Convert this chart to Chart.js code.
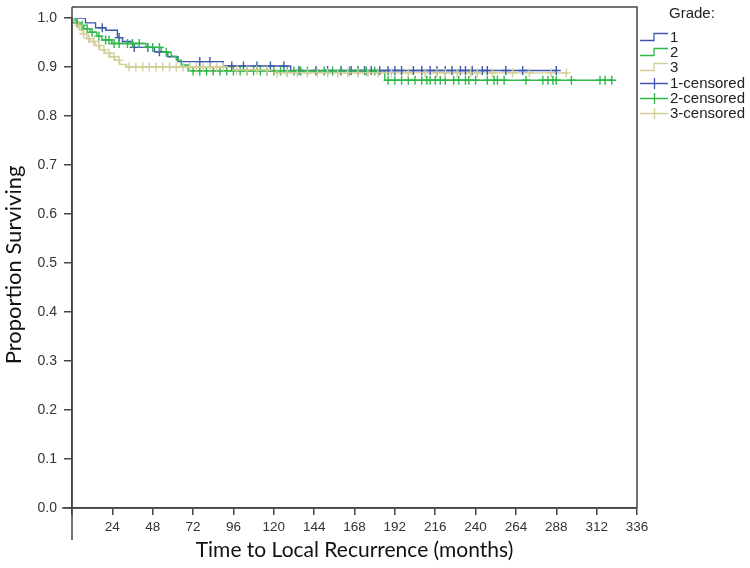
<!DOCTYPE html>
<html><head><meta charset="utf-8">
<script src="https://cdn.jsdelivr.net/npm/chart.js@4.4.1/dist/chart.umd.min.js"></script>
<style>
html,body{margin:0;padding:0;background:#fff;}
#wrap{position:relative;width:750px;height:568px;overflow:hidden;}
#legend{position:absolute;left:0;top:0;width:750px;height:568px;pointer-events:none;font-family:"Liberation Sans",Arial,sans-serif;font-size:15px;color:#222;}
#legend .t{position:absolute;line-height:16px;white-space:nowrap;}
#legend svg{position:absolute;}
</style></head><body>
<div id="wrap"><canvas id="c" width="750" height="568"></canvas><div id="legend"></div></div>
<script>
// ---------- data ----------
const xTicks = [0,24,48,72,96,120,144,168,192,216,240,264,288,312,336];
const yTicks = [0.0,0.1,0.2,0.3,0.4,0.5,0.6,0.7,0.8,0.9,1.0];
const groupNames = ["1","2","3"];
const groupColors = ["#3E58AC","#2EB848","#D3CE97"];

const grade1Times = [0, 8, 14, 20, 27, 30, 36, 49, 57, 63, 90, 130, 288];
const grade1Surv  = [1.0, 0.99, 0.98, 0.975, 0.96, 0.952, 0.94, 0.931, 0.921, 0.911, 0.902, 0.893, 0.893];
const grade2Times = [0, 1.8, 3, 4.7, 7.1, 10.7, 14.8, 17.8, 23.7, 44, 53, 59, 62, 65, 69, 186, 322];
const grade2Surv  = [1.0, 0.995, 0.99, 0.985, 0.978, 0.971, 0.963, 0.955, 0.948, 0.94, 0.93, 0.922, 0.914, 0.904, 0.892, 0.873, 0.873];
const grade3Times = [0, 1, 3, 4.7, 6.5, 8.9, 10.7, 13.6, 16.6, 19.5, 22.5, 25.4, 28.4, 32.5, 95, 120, 295];
const grade3Surv  = [1.0, 0.99, 0.985, 0.975, 0.968, 0.958, 0.952, 0.944, 0.935, 0.928, 0.921, 0.914, 0.905, 0.90, 0.894, 0.888, 0.888];

const grade1Censored = [18, 28, 37, 45, 52, 76, 82, 95, 102, 110, 118, 126, 135, 145, 152, 160, 166, 170, 174, 178, 183, 188, 192, 196, 203, 208, 213, 217, 222, 226, 231, 234, 238, 244, 247, 258, 268, 288];
const grade2Censored = [3, 6, 9, 12, 16, 20, 22, 25, 28, 33, 36, 40, 45, 48, 52, 56, 72, 76, 80, 84, 88, 92, 96, 100, 104, 108, 112, 116, 120, 124, 128, 132, 136, 140, 145, 150, 155, 160, 165, 170, 175, 180, 188, 192, 196, 200, 204, 208, 211, 213, 216, 219, 222, 227, 230, 234, 236, 240, 247, 251, 253, 257, 270, 280, 283, 286, 288, 297, 314, 317, 321];
const grade3Censored = [4, 7, 10, 13, 16, 19, 22, 25, 28, 34, 38, 42, 46, 50, 54, 58, 62, 66, 70, 74, 78, 82, 86, 90, 98, 104, 110, 116, 122, 128, 134, 140, 146, 152, 158, 164, 170, 176, 182, 190, 200, 210, 217, 222, 229, 237, 241, 250, 262, 272, 285, 294];

// ---------- helpers ----------
function survAt(times, surv, t){
  let v = surv[0];
  for (let i=0;i<times.length;i++){ if (times[i] <= t) v = surv[i]; else break; }
  return v;
}
const curves = [[grade1Times,grade1Surv,grade1Censored],[grade2Times,grade2Surv,grade2Censored],[grade3Times,grade3Surv,grade3Censored]];

const datasets = [];
curves.forEach((c,i)=>{
  datasets.push({type:'line', label:groupNames[i], data:c[0].map((t,j)=>({x:t,y:c[1][j]})),
    stepped:true, borderColor:groupColors[i], borderWidth:1.4, pointRadius:0, fill:false, order:5-i});
});
curves.forEach((c,i)=>{
  datasets.push({type:'scatter', label:groupNames[i]+'-censored', data:c[2].map(t=>({x:t,y:survAt(c[0],c[1],t)})),
    pointStyle:'cross', pointRadius:4.5, borderColor:groupColors[i], borderWidth:1.4, showLine:false, order:2-i});
});

const L=72, R=637, T=18, B=508;
const framePlugin = {
  id:'frame',
  afterDraw(chart){
    const ctx = chart.ctx, a = chart.chartArea;
    ctx.save();
    ctx.strokeStyle = '#444'; ctx.lineWidth = 1.5;
    ctx.beginPath();
    ctx.moveTo(a.left, a.top-11); ctx.lineTo(a.right, a.top-11); ctx.lineTo(a.right, a.bottom);
    ctx.moveTo(a.left, a.top-11); ctx.lineTo(a.left, a.bottom+32);
    ctx.moveTo(a.left-10, a.bottom); ctx.lineTo(a.right, a.bottom);
    ctx.stroke();
    ctx.fillStyle = '#111';
    ctx.textAlign = 'center'; ctx.textBaseline = 'middle';
    ctx.font = '21px Lato, "Open Sans", sans-serif';
    ctx.fillText('Time to Local Recurrence (months)', (a.left+a.right)/2, 550);
    ctx.translate(14, (a.top+a.bottom)/2 + 2);
    ctx.rotate(-Math.PI/2);
    ctx.font = '22px Lato, "Open Sans", sans-serif';
    ctx.fillText('Proportion Surviving', 0, 0);
    ctx.restore();
  }
};

new Chart(document.getElementById('c'), {
  type:'scatter',
  data:{datasets},
  options:{
    responsive:false, animation:false, devicePixelRatio:1,
    layout:{padding:{top:T, right:750-R, left:0, bottom:0}},
    plugins:{legend:{display:false}, tooltip:{enabled:false}},
    scales:{
      x:{type:'linear', min:0, max:336, afterFit(s){s.height=568-B;},
        afterBuildTicks(s){ s.ticks = xTicks.map(v=>({value:v})); },
        ticks:{callback:v=> v===0 ? '' : String(v), font:{family:'"Liberation Sans", Arial, sans-serif', size:13.5}, color:'#333', padding:4, maxRotation:0, autoSkip:false},
        grid:{drawOnChartArea:false, drawTicks:true, tickLength:7, color:'#444', lineWidth:1.5},
        border:{display:true, color:'#444', width:1.5}},
      y:{type:'linear', min:0, max:1, afterFit(s){s.width=L;},
        afterBuildTicks(s){ s.ticks = yTicks.map(v=>({value:v})); },
        ticks:{callback:v=> Number(v).toFixed(1), font:{family:'"Liberation Sans", Arial, sans-serif', size:14}, color:'#333', padding:7, autoSkip:false},
        grid:{drawOnChartArea:false, drawTicks:true, tickLength:8, color:'#444', lineWidth:1.5},
        border:{display:true, color:'#444', width:1.5}}
    }
  },
  plugins:[framePlugin]
});

// ---------- legend ----------
const leg = document.getElementById('legend');
function addText(txt, x, yc){
  const d = document.createElement('div'); d.className='t'; d.textContent = txt;
  d.style.left = x+'px'; d.style.top = (yc-8)+'px'; leg.appendChild(d);
}
function addGlyph(kind, color, yc){
  const ns='http://www.w3.org/2000/svg';
  const s = document.createElementNS(ns,'svg'); s.setAttribute('width','30'); s.setAttribute('height','14');
  s.style.left='640px'; s.style.top=(yc-7)+'px';
  const p = document.createElementNS(ns,'path');
  p.setAttribute('d', kind==='step' ? 'M0 10.5 H14 V3.5 H28' : 'M0 7.5 H28 M14.5 2 V13');
  p.setAttribute('stroke', color); p.setAttribute('stroke-width','1.3'); p.setAttribute('fill','none');
  s.appendChild(p); leg.appendChild(s);
}
addText('Grade:', 669, 13);
const rowY = [37, 52, 67, 83, 98, 113];
groupNames.forEach((g,i)=>{ addGlyph('step', groupColors[i], rowY[i]); addText(g, 670, rowY[i]); });
groupNames.forEach((g,i)=>{ addGlyph('cross', groupColors[i], rowY[i+3]); addText(g+'-censored', 670, rowY[i+3]); });
</script>
</body></html>
